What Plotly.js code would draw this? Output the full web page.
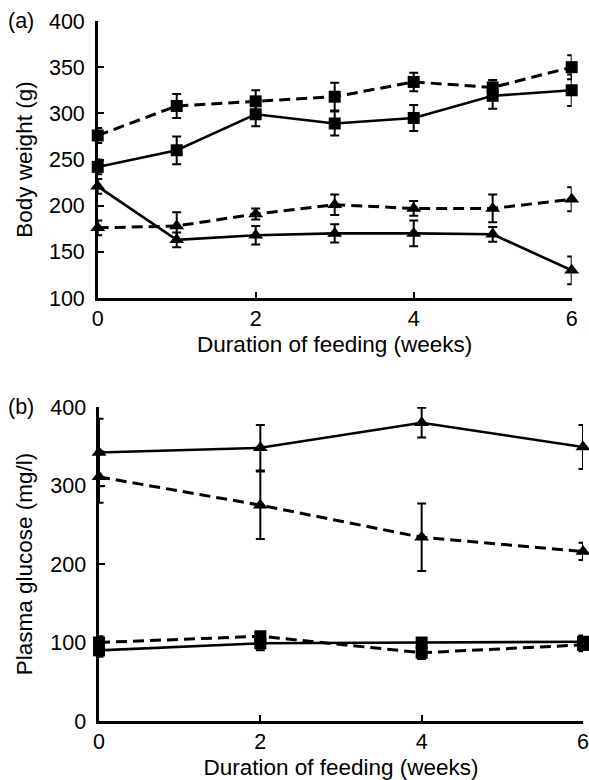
<!DOCTYPE html>
<html>
<head>
<meta charset="utf-8">
<script src="https://cdn.plot.ly/plotly-3.0.1.min.js"></script>
<style>html,body{margin:0;padding:0;background:#fff;}#chart{width:589px;height:780px;}</style>
</head>
<body>
<div id="chart"></div>
<script>
// Panel (a): body weight (g)
const weeksA = [0, 1, 2, 3, 4, 5, 6];
const sqDashA = [276, 308, 313, 318, 334, 328, 350];
const sqDashAErr = [8, 13, 12, 15, 10, 8, 13];
const sqSolidA = [242, 260, 299, 289, 295, 319, 325];
const sqSolidAErr = [8, 15, 13, 13, 14, 14, 17];
const triDashA = [176, 178, 191, 201, 197, 197, 207];
const triDashAErr = [8, 15, 6, 11, 8, 15, 13];
const triSolidA = [221, 163, 168, 170, 170, 169, 130];
const triSolidAErr = [8, 8, 10, 10, 14, 8, 15];

// Panel (b): plasma glucose (mg/l)
const weeksB = [0, 2, 4, 6];
const triSolidB = [342, 348, 380, 349];
const triSolidBErr = [43, 29, 19, 28];
const triDashB = [311, 275, 234, 216];
const triDashBErr = [33, 43, 43, 11];
const sqSolidB = [90, 99, 100, 101];
const sqSolidBErr = [8, 9, 5, 8];
const sqDashB = [100, 108, 87, 97];
const sqDashBErr = [8, 5, 8, 8];

const xTicks = [0, 2, 4, 6];
const xTitle = 'Duration of feeding (weeks)';

function tr(x, y, err, sym, dashed, xa, ya) {
  return {
    x: x, y: y, xaxis: xa, yaxis: ya, type: 'scatter', mode: 'lines+markers',
    cliponaxis: false,
    line: {color: '#000', width: dashed ? 3 : 2.6, dash: dashed ? '11px,6px' : 'solid'},
    marker: {symbol: sym, size: sym === 'square' ? 12 : 13, color: '#000'},
    error_y: {type: 'data', array: err, visible: true, color: '#000', thickness: 2, width: 4.5},
    showlegend: false, hoverinfo: 'skip'
  };
}

const data = [
  tr(weeksA, sqDashA, sqDashAErr, 'square', true, 'x', 'y'),
  tr(weeksA, sqSolidA, sqSolidAErr, 'square', false, 'x', 'y'),
  tr(weeksA, triDashA, triDashAErr, 'triangle-up', true, 'x', 'y'),
  tr(weeksA, triSolidA, triSolidAErr, 'triangle-up', false, 'x', 'y'),
  tr(weeksB, triSolidB, triSolidBErr, 'triangle-up', false, 'x2', 'y2'),
  tr(weeksB, triDashB, triDashBErr, 'triangle-up', true, 'x2', 'y2'),
  tr(weeksB, sqSolidB, sqSolidBErr, 'square', false, 'x2', 'y2'),
  tr(weeksB, sqDashB, sqDashBErr, 'square', true, 'x2', 'y2')
];

const fam = 'Liberation Sans, Arial, sans-serif';
const font = {family: fam, size: 21.5, color: '#000'};
const titleFont = {family: fam, size: 22.5, color: '#000'};
const axCommon = {
  showline: true, linecolor: '#000', linewidth: 2.6, showgrid: false, zeroline: false,
  ticks: 'inside', ticklen: 6, tickwidth: 2, tickcolor: '#000',
  tickfont: font, automargin: false, fixedrange: true, ticklabeloverflow: 'allow'
};

const layout = {
  width: 589, height: 780,
  margin: {l: 0, r: 0, t: 0, b: 0},
  paper_bgcolor: '#fff', plot_bgcolor: '#fff',
  font: font,
  xaxis: Object.assign({}, axCommon, {
    domain: [0.1659, 0.9706], range: [0, 6], tickvals: xTicks, anchor: 'y',
    title: {text: xTitle, font: titleFont, standoff: 6}
  }),
  yaxis: Object.assign({}, axCommon, {
    domain: [0.6179, 0.9731], range: [100, 400], dtick: 50, anchor: 'x',
    ticklabelstandoff: 6,
    title: {text: 'Body weight (g)', font: titleFont, standoff: 10}
  }),
  xaxis2: Object.assign({}, axCommon, {
    domain: [0.1681, 0.9898], range: [0, 6], tickvals: xTicks, anchor: 'y2',
    title: {text: xTitle, font: titleFont, standoff: 10}
  }),
  yaxis2: Object.assign({}, axCommon, {
    domain: [0.0756, 0.4782], range: [0, 400], dtick: 100, anchor: 'x2',
    ticklabelstandoff: 6,
    title: {text: 'Plasma glucose (mg/l)', font: titleFont, standoff: 12}
  }),
  annotations: [
    {text: '(a)', xref: 'paper', yref: 'paper', x: 21 / 589, y: 1 - 21 / 780, showarrow: false,
     xanchor: 'center', yanchor: 'middle', font: font},
    {text: '(b)', xref: 'paper', yref: 'paper', x: 21 / 589, y: 1 - 407 / 780, showarrow: false,
     xanchor: 'center', yanchor: 'middle', font: font}
  ]
};

Plotly.newPlot('chart', data, layout, {displayModeBar: false, staticPlot: true});
</script>
</body>
</html>
